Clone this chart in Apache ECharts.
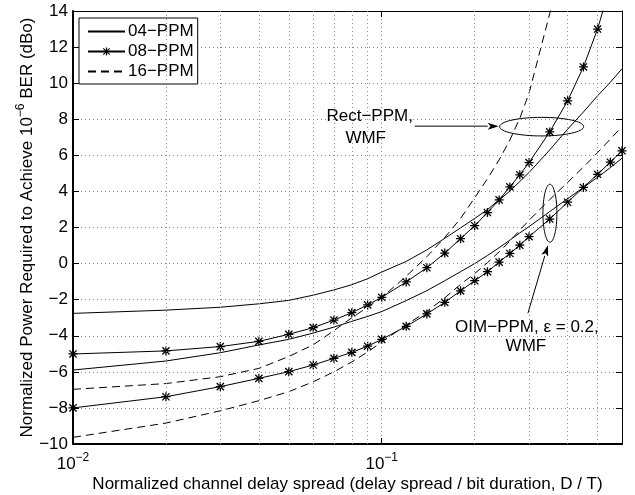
<!DOCTYPE html>
<html>
<head>
<meta charset="utf-8">
<script src="https://cdn.jsdelivr.net/npm/echarts@6/dist/echarts.min.js"></script>
<style>
  html, body { margin: 0; padding: 0; background: #fff; }
  #main { width: 635px; height: 495px; }
</style>
</head>
<body>
<div id="main"></div>
<script>
// delay spread samples (D/T)
var delaySpread = [0.01, 0.02, 0.03, 0.04, 0.05, 0.06, 0.07, 0.08, 0.09, 0.1,
  0.12, 0.14, 0.16, 0.18, 0.2, 0.22, 0.24, 0.26, 0.28, 0.3,
  0.35, 0.4, 0.45, 0.5, 0.55, 0.6];

// Rect-PPM, WMF
var rect04 = [-2.76, -2.58, -2.42, -2.23, -2.04, -1.75, -1.46, -1.17, -0.84, -0.47,
  0.12, 0.76, 1.4, 1.98, 2.5, 3.0, 3.53, 4.02, 4.55, 5.05,
  6.3, 7.45, 8.4, 9.3, 10.05, 10.8];
var rect08 = [-5.01, -4.84, -4.6, -4.31, -3.92, -3.55, -3.13, -2.72, -2.29, -1.87,
  -1.02, -0.23, 0.58, 1.38, 2.1, 2.83, 3.53, 4.25, 4.92, 5.6,
  7.3, 9.02, 10.9, 13.0, 15.4, 18.0];
var rect16 = [-6.97, -6.65, -6.27, -5.81, -5.15, -4.5, -3.72, -3.0, -2.42, -1.88,
  -0.7, 0.38, 1.45, 2.5, 3.65, 4.7, 5.75, 6.85, 8.05, 9.45,
  13.85, 19.0, 24.0, 29.0, 34.0, 39.0];

// OIM-PPM, eps = 0.2, WMF
var oim04 = [-5.9, -5.4, -4.94, -4.51, -4.2, -3.85, -3.52, -3.2, -2.93, -2.66,
  -2.05, -1.5, -0.95, -0.45, 0.0, 0.45, 0.88, 1.3, 1.7, 2.05,
  2.88, 3.6, 4.22, 4.78, 5.32, 5.84];
var oim08 = [-8.0, -7.38, -6.82, -6.36, -5.99, -5.62, -5.25, -4.92, -4.58, -4.2,
  -3.48, -2.79, -2.15, -1.51, -0.95, -0.45, 0.08, 0.56, 1.02, 1.49,
  2.47, 3.4, 4.22, 4.95, 5.62, 6.25];
var oim16 = [-9.63, -8.84, -8.16, -7.6, -7.1, -6.55, -6.0, -5.45, -4.9, -4.35,
  -3.4, -2.65, -1.9, -1.15, -0.55, 0.05, 0.65, 1.25, 1.85, 2.4,
  3.55, 4.5, 5.35, 6.15, 6.9, 7.59];

var legendNames = ['04\u2212PPM', '08\u2212PPM', '16\u2212PPM'];
var yTicks = { min: -10, max: 14, step: 2 };
var minorGridX = [0.02, 0.03, 0.04, 0.05, 0.06, 0.07, 0.08, 0.09, 0.2, 0.3, 0.4, 0.5];

var FONT = '"Liberation Sans", Helvetica, Arial, sans-serif';
var FS = 17;
var STAR = 'path://M4.3 0 H5.7 V10 H4.3 Z M0 4.3 H10 V5.7 H0 Z M1.5 0.5 L9.5 8.5 L8.5 9.5 L0.5 1.5 Z M0.5 8.5 L8.5 0.5 L9.5 1.5 L1.5 9.5 Z';

function pairs(ys) {
  var out = [];
  for (var i = 0; i < delaySpread.length; i++) {
    out.push([delaySpread[i], ys[i]]);
  }
  return out;
}

function curve(name, ys, kind) {
  var s = {
    name: name,
    type: 'line',
    data: pairs(ys),
    symbol: 'none',
    lineStyle: { color: '#000', width: 1, type: 'solid' },
    itemStyle: { color: '#000' },
    z: 3
  };
  if (kind == 'star') {
    s.symbol = STAR;
    s.symbolSize = 9;
  }
  if (kind == 'dash') {
    s.lineStyle.type = [8, 5];
  }
  return s;
}

var chart = echarts.init(document.getElementById('main'));

var dotted = { color: '#8a8a8a', width: 1, type: [1, 3] };

chart.setOption({
  animation: false,
  backgroundColor: '#fff',
  textStyle: { fontFamily: FONT },
  grid: { left: 73, right: 13, top: 11, bottom: 51, outerBoundsMode: 'none' },
  legend: {
    // no marker on the plain / dashed entries
    data: [
      { name: legendNames[0], itemStyle: { opacity: 0 } },
      { name: legendNames[1] },
      { name: legendNames[2], itemStyle: { opacity: 0 } }
    ],
    orient: 'vertical',
    left: 79,
    top: 18,
    padding: [5, 4, 4, 8],
    itemGap: 3,
    itemWidth: 37,
    itemHeight: 10,
    backgroundColor: '#fff',
    borderColor: '#000',
    borderWidth: 1,
    borderRadius: 0,
    textStyle: { fontSize: FS, color: '#000', fontFamily: FONT, padding: [0, 0, 0, -2] }
  },
  xAxis: [{
    type: 'log',
    logBase: 10,
    min: 0.01,
    max: 0.6,
    name: 'Normalized channel delay spread (delay spread / bit duration, D / T)',
    nameLocation: 'middle',
    nameGap: 32,
    nameMoveOverlap: false,
    nameTextStyle: { fontSize: FS, color: '#000', fontFamily: FONT },
    axisLine: { onZero: false, lineStyle: { color: '#000', width: 2 } },
    axisTick: { inside: true, length: 6, lineStyle: { color: '#000' } },
    axisLabel: {
      margin: 8,
      color: '#000',
      showMaxLabel: false,
      formatter: function (v) {
        var e = Math.log(v) / Math.LN10;
        var r = Math.round(e);
        if (Math.abs(e - r) > 1e-6) return '';
        return '{b|10}{s|' + (r < 0 ? '\u2212' + (-r) : r) + '}';
      },
      rich: {
        b: { fontSize: FS, fontFamily: FONT, color: '#000' },
        s: { fontSize: 12, fontFamily: FONT, color: '#000', padding: [0, 0, 12, 0] }
      }
    },
    splitLine: { show: true, lineStyle: dotted }
  }, {
    type: 'log',
    logBase: 10,
    min: 0.01,
    max: 0.6,
    position: 'top',
    axisLine: { onZero: false, lineStyle: { color: '#000', width: 1 } },
    axisTick: { inside: true, length: 6, lineStyle: { color: '#000' } },
    axisLabel: { show: false },
    splitLine: { show: false }
  }],
  yAxis: [{
    type: 'value',
    min: yTicks.min,
    max: yTicks.max,
    interval: yTicks.step,
    name: 'Normalized Power Required to Achieve 10{sup|\u22126} BER (dBo)',
    nameLocation: 'middle',
    nameGap: 34,
    nameMoveOverlap: false,
    nameTextStyle: {
      fontSize: FS, color: '#000', fontFamily: FONT,
      rich: { sup: { fontSize: 12, fontFamily: FONT, color: '#000', padding: [0, 0, 12, 0] } }
    },
    axisLine: { onZero: false, lineStyle: { color: '#000', width: 2 } },
    axisTick: { inside: true, length: 6, lineStyle: { color: '#000' } },
    axisLabel: {
      margin: 5, color: '#000', fontSize: FS, fontFamily: FONT,
      formatter: function (v) { return v < 0 ? '\u2212' + (-v) : '' + v; }
    },
    splitLine: { show: true, lineStyle: dotted }
  }, {
    type: 'value',
    min: yTicks.min,
    max: yTicks.max,
    interval: yTicks.step,
    position: 'right',
    axisLine: { show: true, onZero: false, lineStyle: { color: '#000', width: 1 } },
    axisTick: { show: true, inside: true, length: 6, lineStyle: { color: '#000' } },
    axisLabel: { show: false },
    splitLine: { show: false }
  }],
  series: [
    // minor log grid lines
    {
      name: 'minor-grid',
      type: 'line',
      data: [],
      silent: true,
      z: 1,
      markLine: {
        silent: true,
        symbol: ['none', 'none'],
        label: { show: false },
        lineStyle: dotted,
        data: minorGridX.map(function (v) { return { xAxis: v }; })
      }
    },
    curve(legendNames[0], rect04, 'solid'),
    curve(legendNames[1], rect08, 'star'),
    curve(legendNames[2], rect16, 'dash'),
    curve(legendNames[0], oim04, 'solid'),
    curve(legendNames[1], oim08, 'star'),
    curve(legendNames[2], oim16, 'dash')
  ]
});

// annotations: ellipses, arrows and their texts
function px(x, y) { return chart.convertToPixel({ xAxisIndex: 0, yAxisIndex: 0 }, [x, y]); }

function arrow(x1, y1, x2, y2) {
  var a = Math.atan2(y2 - y1, x2 - x1);
  var L = 11, W = 3.5;
  var bx = x2 - L * Math.cos(a), by = y2 - L * Math.sin(a);
  var nx = -Math.sin(a) * W, ny = Math.cos(a) * W;
  return [{
    type: 'line',
    shape: { x1: x1, y1: y1, x2: bx, y2: by },
    style: { stroke: '#000', lineWidth: 1 },
    z: 10
  }, {
    type: 'polygon',
    shape: { points: [[x2, y2], [bx + nx, by + ny], [bx + L * 0.25 * Math.cos(a), by + L * 0.25 * Math.sin(a)], [bx - nx, by - ny]] },
    style: { fill: '#000' },
    z: 10
  }];
}

var e1 = px(0.3296, 7.59);
var e2 = px(0.3505, 2.79);
var g = [];
g.push({ type: 'ellipse', shape: { cx: e1[0], cy: e1[1], rx: 42, ry: 9.3 }, style: { fill: null, stroke: '#000', lineWidth: 1 }, z: 10 });
g.push({ type: 'ellipse', shape: { cx: e2[0], cy: e2[1], rx: 7, ry: 29 }, style: { fill: null, stroke: '#000', lineWidth: 1 }, z: 10 });
g = g.concat(arrow(e1[0] - 127, e1[1] - 0.5, e1[0] - 43, e1[1] - 0.5));
g = g.concat(arrow(e2[0] - 22, e2[1] + 100, e2[0] - 2, e2[1] + 32));
var ts = { fill: '#000', font: FS + 'px ' + FONT, textAlign: 'center', textVerticalAlign: 'middle' };
g.push({ type: 'text', x: e1[0] - 172, y: e1[1] - 10, style: Object.assign({ text: 'Rect\u2212PPM,' }, ts), z: 10 });
g.push({ type: 'text', x: e1[0] - 176, y: e1[1] + 12, style: Object.assign({ text: 'WMF' }, ts), z: 10 });
g.push({ type: 'text', x: e2[0] - 23, y: e2[1] + 114, style: Object.assign({ text: 'OIM\u2212PPM, \u03b5 = 0.2,' }, ts), z: 10 });
g.push({ type: 'text', x: e2[0] - 24, y: e2[1] + 133, style: Object.assign({ text: 'WMF' }, ts), z: 10 });

chart.setOption({ graphic: g });
</script>
</body>
</html>
